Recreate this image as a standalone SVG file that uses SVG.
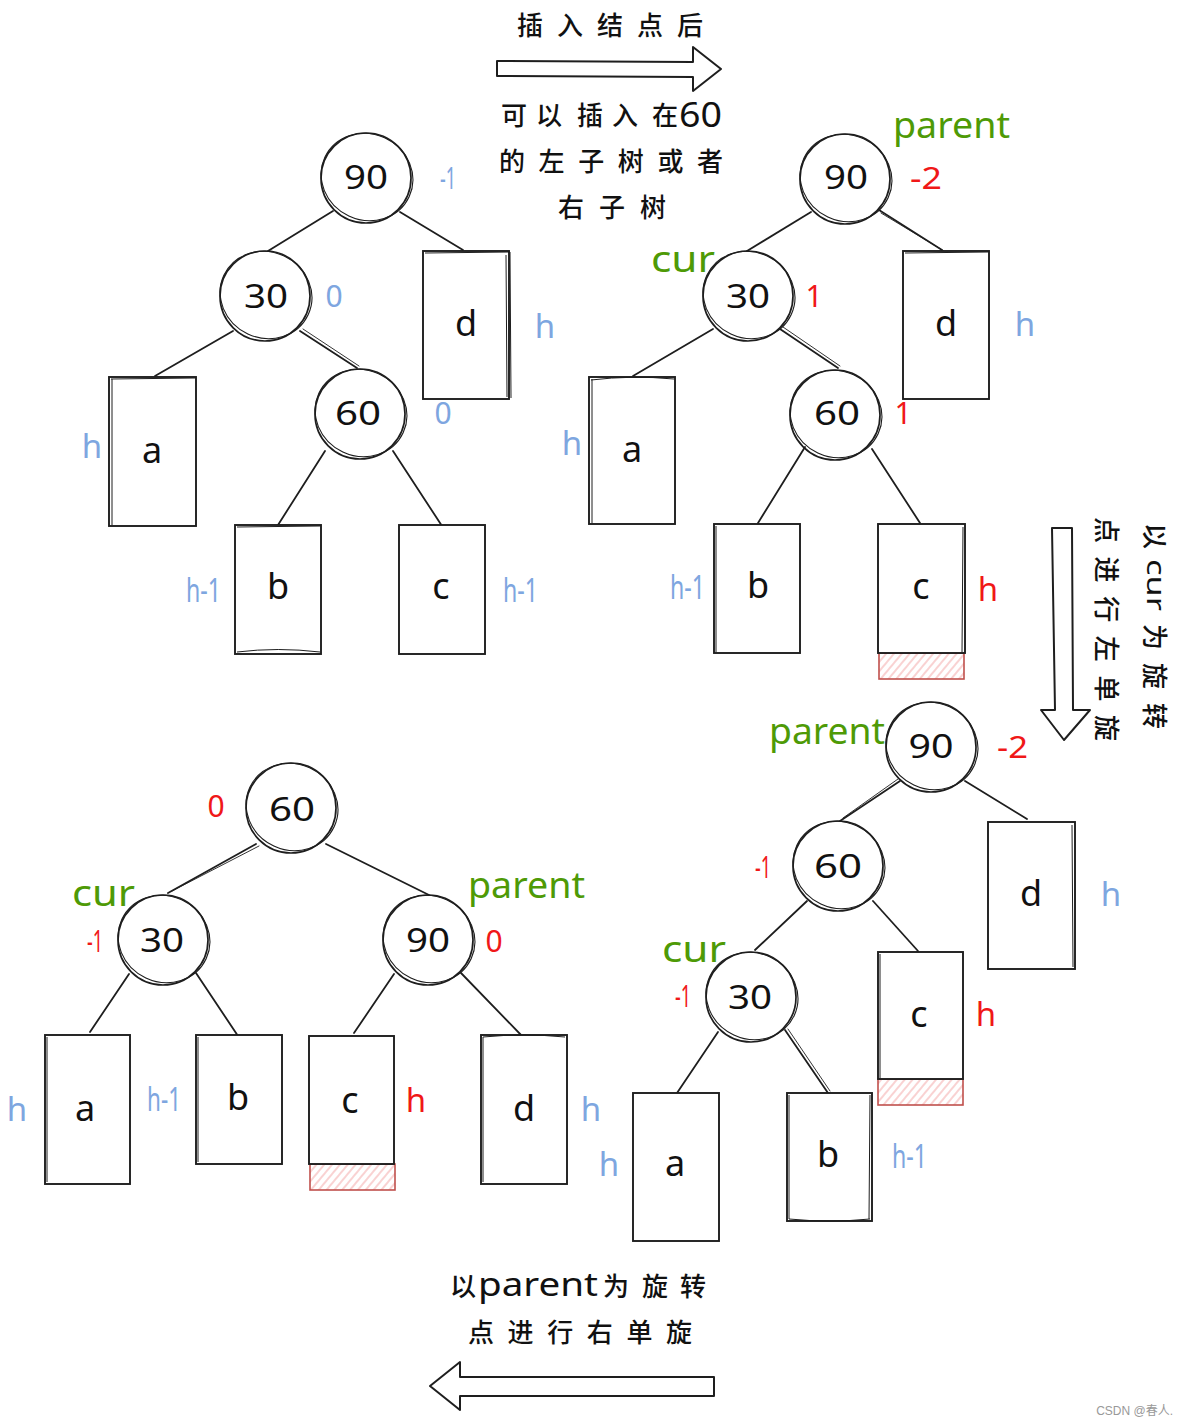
<svg xmlns="http://www.w3.org/2000/svg" xmlns:xlink="http://www.w3.org/1999/xlink" width="1188" height="1426" viewBox="0 0 1188 1426">
<style>
.sk{fill:none;stroke:#1e1e1e;stroke-width:1.7}
.sk2{fill:none;stroke:#1e1e1e;stroke-width:1.1}
.bx{fill:#fff;stroke:#1e1e1e;stroke-width:1.9}
.bx2{fill:none;stroke:#1e1e1e;stroke-width:1}
.ln{stroke:#1e1e1e;stroke-width:1.8;stroke-linecap:round;fill:none}
.ln2{stroke:#1e1e1e;stroke-width:0.9;stroke-linecap:round;fill:none}
.ht{fill:url(#hatch);stroke:#c0504d;stroke-width:1.6}
.t{font-family:"Noto Sans","Noto Sans CJK SC",sans-serif}
.num{font-size:32px;text-anchor:middle;fill:#111}
.let{font-size:36px;text-anchor:middle;fill:#111}
.lab{font-size:33px}
.sm{font-size:30px}
.blue{fill:#7ea6e0}
.red{fill:#f01818}
.grn{fill:#4e9a06;font-size:36px}
.cjk{font-family:"Noto Sans CJK SC","Noto Sans",sans-serif;font-size:26px;font-weight:500;fill:#111}
.lat{font-family:"Noto Sans","Noto Sans CJK SC",sans-serif;font-weight:normal}
.arr{fill:#fff;stroke:#1e1e1e;stroke-width:2;stroke-linejoin:round}
</style>
<defs>
<pattern id="hatch" patternUnits="userSpaceOnUse" width="6" height="6" patternTransform="rotate(40)">
<rect width="6" height="6" fill="#fff"/>
<line x1="1" y1="0" x2="1" y2="6" stroke="#f4a6a6" stroke-width="1"/>
</pattern>
<g id="skc">
<circle r="45" class="sk"/>
<ellipse rx="46.5" ry="43" transform="translate(1,-1) rotate(25)" class="sk2"/>
</g>
</defs>
<rect width="1188" height="1426" fill="#fff"/>

<g id="connectors">
<line class="ln" x1="333" y1="211" x2="268" y2="251"/>
<line class="ln" x1="400" y1="212" x2="463" y2="250"/>
<line class="ln" x1="233" y1="331" x2="155" y2="376"/>
<line class="ln" x1="300" y1="331" x2="357" y2="368"/>
<line class="ln2" x1="303" y1="329" x2="359" y2="366"/>
<line class="ln" x1="325" y1="451" x2="278" y2="525"/>
<line class="ln" x1="393" y1="451" x2="442" y2="526"/>
<line class="ln" x1="811" y1="212" x2="747" y2="251"/>
<line class="ln" x1="879" y1="210" x2="942" y2="250"/>
<line class="ln2" x1="881" y1="213" x2="944" y2="251"/>
<line class="ln" x1="713" y1="329" x2="633" y2="376"/>
<line class="ln" x1="780" y1="329" x2="838" y2="368"/>
<line class="ln2" x1="783" y1="327" x2="840" y2="366"/>
<line class="ln" x1="805" y1="447" x2="758" y2="523"/>
<line class="ln" x1="872" y1="449" x2="920" y2="523"/>
<line class="ln" x1="900" y1="781" x2="840" y2="821"/>
<line class="ln2" x1="898" y1="779" x2="843" y2="818"/>
<line class="ln" x1="965" y1="781" x2="1027" y2="819"/>
<line class="ln" x1="807" y1="901" x2="755" y2="950"/>
<line class="ln" x1="873" y1="901" x2="918" y2="951"/>
<line class="ln" x1="718" y1="1032" x2="677" y2="1093"/>
<line class="ln" x1="785" y1="1030" x2="828" y2="1093"/>
<line class="ln2" x1="788" y1="1029" x2="830" y2="1091"/>
<line class="ln" x1="256" y1="844" x2="168" y2="893"/>
<line class="ln2" x1="259" y1="846" x2="172" y2="891"/>
<line class="ln" x1="326" y1="844" x2="429" y2="895"/>
<line class="ln" x1="129" y1="974" x2="90" y2="1032"/>
<line class="ln" x1="196" y1="973" x2="238" y2="1036"/>
<line class="ln" x1="394" y1="974" x2="354" y2="1033"/>
<line class="ln" x1="461" y1="973" x2="522" y2="1036"/>
</g>

<g id="caption-top">
<text class="cjk" x="517" y="35" textLength="186" lengthAdjust="spacing">插入结点后</text>
<polygon class="arr" points="497,61 693,62 693,47 721,69 693,91 693,77 497,76"/>
<text class="cjk" y="125"><tspan x="501">可</tspan><tspan x="536">以</tspan><tspan x="577">插</tspan><tspan x="612">入</tspan><tspan x="652">在</tspan><tspan class="lat" x="679" y="127" font-size="34" textLength="43" lengthAdjust="spacingAndGlyphs">60</tspan></text>
<text class="cjk" x="499" y="171" textLength="224" lengthAdjust="spacing">的左子树或者</text>
<text class="cjk" x="558" y="217" textLength="108" lengthAdjust="spacing">右子树</text>
</g>

<g id="tl-90">
<use xlink:href="#skc" x="366" y="178"/>
<text class="t num" x="366" y="189" textLength="44" lengthAdjust="spacingAndGlyphs">90</text>
<text class="t sm blue" x="440" y="189" textLength="16" lengthAdjust="spacingAndGlyphs">-1</text>
</g>
<g id="tl-30">
<use xlink:href="#skc" x="265" y="296"/>
<text class="t num" x="266" y="308" textLength="44" lengthAdjust="spacingAndGlyphs">30</text>
<text class="t sm blue" x="334" y="307" text-anchor="middle">0</text>
</g>
<g id="tl-60">
<use xlink:href="#skc" x="360" y="414"/>
<text class="t num" x="358" y="425" textLength="46" lengthAdjust="spacingAndGlyphs">60</text>
<text class="t sm blue" x="443" y="424" text-anchor="middle">0</text>
</g>
<g id="tl-d">
<rect class="bx" x="423" y="251" width="86" height="148"/>
<path class="bx2" d="M425 253 L510 252 L511 398 M506 255 L507 397"/>
<text class="t let" x="466" y="336">d</text>
<text class="t lab blue" x="545" y="338" text-anchor="middle">h</text>
</g>
<g id="tl-a">
<rect class="bx" x="109" y="377" width="87" height="149"/>
<path class="bx2" d="M111 379 L195 378 M112 379 L112 525"/>
<text class="t let" x="152" y="463">a</text>
<text class="t lab blue" x="92" y="458" text-anchor="middle">h</text>
</g>
<g id="tl-b">
<rect class="bx" x="235" y="525" width="86" height="129"/>
<path class="bx2" d="M237 527 L320 526 M237 652 Q278 647 320 652"/>
<text class="t let" x="278" y="599">b</text>
<text class="t lab blue" x="186" y="602" textLength="35" lengthAdjust="spacingAndGlyphs">h-1</text>
</g>
<g id="tl-c">
<rect class="bx" x="399" y="525" width="86" height="129"/>
<text class="t let" x="441" y="599">c</text>
<text class="t lab blue" x="503" y="602" textLength="35" lengthAdjust="spacingAndGlyphs">h-1</text>
</g>

<g id="tr-90">
<use xlink:href="#skc" x="845" y="179"/>
<text class="t num" x="846" y="189" textLength="44" lengthAdjust="spacingAndGlyphs">90</text>
<text class="t grn" x="893" y="138" textLength="117" lengthAdjust="spacingAndGlyphs">parent</text>
<text class="t sm red" x="910" y="189" textLength="32" lengthAdjust="spacingAndGlyphs">-2</text>
</g>
<g id="tr-30">
<use xlink:href="#skc" x="748" y="296"/>
<text class="t num" x="748" y="308" textLength="44" lengthAdjust="spacingAndGlyphs">30</text>
<text class="t grn" x="651" y="272" textLength="64" lengthAdjust="spacingAndGlyphs">cur</text>
<text class="t sm red" x="814" y="307" text-anchor="middle">1</text>
</g>
<g id="tr-60">
<use xlink:href="#skc" x="835" y="415"/>
<text class="t num" x="837" y="425" textLength="46" lengthAdjust="spacingAndGlyphs">60</text>
<text class="t sm red" x="903" y="424" text-anchor="middle">1</text>
</g>
<g id="tr-d">
<rect class="bx" x="903" y="251" width="86" height="148"/>
<path class="bx2" d="M905 253 L988 252"/>
<text class="t let" x="946" y="336">d</text>
<text class="t lab blue" x="1025" y="336" text-anchor="middle">h</text>
</g>
<g id="tr-a">
<rect class="bx" x="589" y="377" width="86" height="147"/>
<path class="bx2" d="M591 380 Q632 375 674 379 M592 379 L592 523"/>
<text class="t let" x="632" y="462">a</text>
<text class="t lab blue" x="572" y="455" text-anchor="middle">h</text>
</g>
<g id="tr-b">
<rect class="bx" x="714" y="524" width="86" height="129"/>
<path class="bx2" d="M716 526 L716 652"/>
<text class="t let" x="758" y="598">b</text>
<text class="t lab blue" x="670" y="599" textLength="35" lengthAdjust="spacingAndGlyphs">h-1</text>
</g>
<g id="tr-c">
<rect class="ht" x="879" y="653" width="85" height="26"/>
<rect class="bx" x="878" y="524" width="87" height="129"/>
<path class="bx2" d="M963 527 L962 652"/>
<text class="t let" x="921" y="599">c</text>
<text class="t lab red" x="988" y="601" text-anchor="middle">h</text>
</g>

<g id="caption-right">
<polygon class="arr" points="1052,528 1072,528 1073,710 1090,710 1064,740 1041,710 1055,710"/>
<text class="cjk" transform="translate(1157,523) rotate(90)" dominant-baseline="central"><tspan x="0">以</tspan><tspan class="lat" x="36" textLength="52" lengthAdjust="spacingAndGlyphs">cur</tspan><tspan x="101">为</tspan><tspan x="140">旋</tspan><tspan x="180">转</tspan></text>
<text class="cjk" transform="translate(1108,629) rotate(90)" text-anchor="middle" dominant-baseline="central" textLength="224" lengthAdjust="spacing">点进行左单旋</text>
</g>

<g id="mr-90">
<use xlink:href="#skc" x="931" y="747"/>
<text class="t num" x="931" y="758" textLength="45" lengthAdjust="spacingAndGlyphs">90</text>
<text class="t grn" x="769" y="744" textLength="116" lengthAdjust="spacingAndGlyphs">parent</text>
<text class="t sm red" x="997" y="758" textLength="31" lengthAdjust="spacingAndGlyphs">-2</text>
</g>
<g id="mr-60">
<use xlink:href="#skc" x="838" y="866"/>
<text class="t num" x="838" y="878" textLength="48" lengthAdjust="spacingAndGlyphs">60</text>
<text class="t sm red" x="755" y="878" textLength="16" lengthAdjust="spacingAndGlyphs">-1</text>
</g>
<g id="mr-30">
<use xlink:href="#skc" x="751" y="997"/>
<text class="t num" x="750" y="1009" textLength="44" lengthAdjust="spacingAndGlyphs">30</text>
<text class="t grn" x="662" y="962" textLength="64" lengthAdjust="spacingAndGlyphs">cur</text>
<text class="t sm red" x="675" y="1007" textLength="16" lengthAdjust="spacingAndGlyphs">-1</text>
</g>
<g id="mr-d">
<rect class="bx" x="988" y="822" width="87" height="147"/>
<path class="bx2" d="M1072 825 L1073 967"/>
<text class="t let" x="1031" y="906">d</text>
<text class="t lab blue" x="1111" y="906" text-anchor="middle">h</text>
</g>
<g id="mr-c">
<rect class="ht" x="878" y="1079" width="85" height="26"/>
<rect class="bx" x="878" y="952" width="85" height="127"/>
<path class="bx2" d="M880 954 L880 1078"/>
<text class="t let" x="919" y="1027">c</text>
<text class="t lab red" x="986" y="1026" text-anchor="middle">h</text>
</g>
<g id="mr-a">
<rect class="bx" x="633" y="1093" width="86" height="148"/>
<text class="t let" x="675" y="1176">a</text>
<text class="t lab blue" x="609" y="1176" text-anchor="middle">h</text>
</g>
<g id="mr-b">
<rect class="bx" x="787" y="1093" width="85" height="128"/>
<path class="bx2" d="M789 1095 L789 1219 M870 1095 L869 1219 M789 1219 Q830 1223 870 1219"/>
<text class="t let" x="828" y="1167">b</text>
<text class="t lab blue" x="892" y="1168" textLength="35" lengthAdjust="spacingAndGlyphs">h-1</text>
</g>

<g id="bl-60">
<use xlink:href="#skc" x="291" y="808"/>
<text class="t num" x="292" y="821" textLength="46" lengthAdjust="spacingAndGlyphs">60</text>
<text class="t sm red" x="216" y="817" text-anchor="middle">0</text>
</g>
<g id="bl-30">
<use xlink:href="#skc" x="163" y="940"/>
<text class="t num" x="162" y="952" textLength="44" lengthAdjust="spacingAndGlyphs">30</text>
<text class="t grn" x="72" y="906" textLength="63" lengthAdjust="spacingAndGlyphs">cur</text>
<text class="t sm red" x="87" y="952" textLength="16" lengthAdjust="spacingAndGlyphs">-1</text>
</g>
<g id="bl-90">
<use xlink:href="#skc" x="428" y="940"/>
<text class="t num" x="428" y="952" textLength="44" lengthAdjust="spacingAndGlyphs">90</text>
<text class="t grn" x="468" y="898" textLength="117" lengthAdjust="spacingAndGlyphs">parent</text>
<text class="t sm red" x="494" y="952" text-anchor="middle">0</text>
</g>
<g id="bl-a">
<rect class="bx" x="45" y="1035" width="85" height="149"/>
<path class="bx2" d="M47 1037 L47 1182"/>
<text class="t let" x="85" y="1121">a</text>
<text class="t lab blue" x="17" y="1121" text-anchor="middle">h</text>
</g>
<g id="bl-b">
<rect class="bx" x="196" y="1035" width="86" height="129"/>
<path class="bx2" d="M198 1037 L198 1162"/>
<text class="t let" x="238" y="1110">b</text>
<text class="t lab blue" x="147" y="1111" textLength="34" lengthAdjust="spacingAndGlyphs">h-1</text>
</g>
<g id="bl-c">
<rect class="ht" x="310" y="1164" width="85" height="26"/>
<rect class="bx" x="309" y="1036" width="85" height="128"/>
<text class="t let" x="350" y="1113">c</text>
<text class="t lab red" x="416" y="1112" text-anchor="middle">h</text>
</g>
<g id="bl-d">
<rect class="bx" x="481" y="1035" width="86" height="149"/>
<path class="bx2" d="M483 1037 L483 1182 M483 1037 Q524 1033 565 1037"/>
<text class="t let" x="524" y="1121">d</text>
<text class="t lab blue" x="591" y="1121" text-anchor="middle">h</text>
</g>

<g id="caption-bottom">
<text class="cjk" y="1296"><tspan x="450">以</tspan><tspan class="lat" x="478" font-size="32" textLength="120" lengthAdjust="spacingAndGlyphs">parent</tspan><tspan x="603">为</tspan><tspan x="642">旋</tspan><tspan x="680">转</tspan></text>
<text class="cjk" x="468" y="1342" textLength="224" lengthAdjust="spacing">点进行右单旋</text>
<polygon class="arr" points="430,1386 460,1362 460,1377 714,1377 714,1396 460,1396 460,1410"/>
</g>

<text x="1173" y="1415" text-anchor="end" font-family="'Liberation Sans','Noto Sans CJK SC',sans-serif" font-size="12" fill="#999">CSDN @春人.</text>
</svg>
